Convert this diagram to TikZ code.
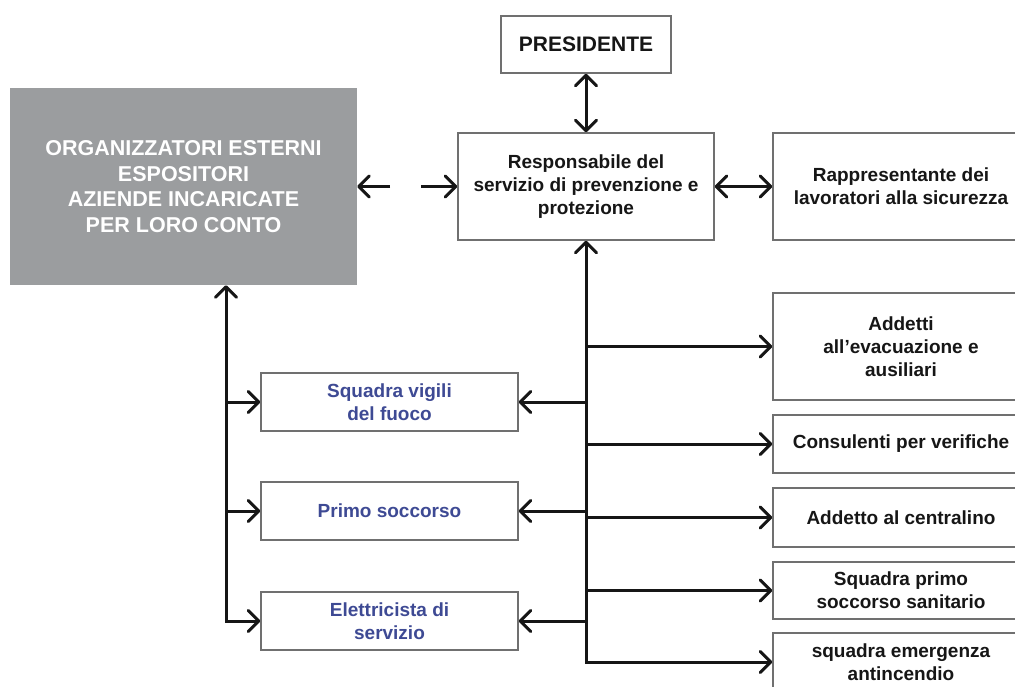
\documentclass[tikz,border=0pt]{standalone}
\usepackage{fontspec}
\setmainfont{Liberation Sans}
\usetikzlibrary{arrows.meta}
\definecolor{boxgrey}{RGB}{155,157,159}
\definecolor{edgegrey}{RGB}{112,112,112}
\definecolor{bluetext}{RGB}{62,74,148}
\definecolor{ink}{RGB}{22,22,22}
\tikzset{
  box/.style={draw=edgegrey, line width=1.6pt, fill=white, inner sep=0pt, align=center,
    font=\bfseries\fontsize{19}{23}\selectfont, text=ink},
  wide/.style={minimum width=256pt},
  leftbox/.style={minimum width=257pt, minimum height=58pt, text=bluetext},
  conn/.style={draw=ink, line width=3pt, >={Straight Barb[length=10.5pt,width=21pt,round]}},
}
\begin{document}
\begin{tikzpicture}[x=1pt,y=-1pt]
\useasboundingbox (0,0) rectangle (1015,686);
\clip (0,0) rectangle (1015,686);

% grey box
\node[fill=boxgrey, minimum width=347pt, minimum height=197pt, inner sep=0pt, align=center,
  text=white, font=\bfseries\fontsize{21.5}{25.7}\selectfont] (grey) at (183.5,186.5)
  {ORGANIZZATORI ESTERNI\\ESPOSITORI\\AZIENDE INCARICATE\\PER LORO CONTO};

% top
\node[box, minimum width=170pt, minimum height=57pt, font=\bfseries\fontsize{21}{25}\selectfont] (pres) at (586,44.5) {PRESIDENTE};
\node[box, wide, minimum height=107pt] (resp) at (586,186.5) {Responsabile del\\servizio di prevenzione e\\protezione};
\node[box, wide, minimum height=107pt] (rapp) at (901,186.5) {Rappresentante dei\\lavoratori alla sicurezza};

% right column
\node[box, wide, minimum height=107pt] (add) at (901,346.5) {Addetti\\all’evacuazione e\\ausiliari};
\node[box, wide, minimum height=58pt] (cons) at (901,444) {Consulenti per verifiche};
\node[box, wide, minimum height=59pt] (cent) at (901,517.5) {Addetto al centralino};
\node[box, wide, minimum height=57pt] (sps) at (901,590.5) {Squadra primo\\soccorso sanitario};
\node[box, wide, minimum height=58pt] (sea) at (901,662) {squadra emergenza\\antincendio};

% left column
\node[box, leftbox] (vig) at (389.5,402) {Squadra vigili\\del fuoco};
\node[box, leftbox] (primo) at (389.5,511) {Primo soccorso};
\node[box, leftbox] (elet) at (389.5,621) {Elettricista di\\servizio};

% helper coordinates
\coordinate (lx) at (226,0);
\coordinate (ga) at (390,186.5);
\coordinate (gb) at (421,186.5);

% connectors
\draw[conn,<->] (pres.south) -- (resp.north);
\draw[conn,<->] (resp.east) -- (rapp.west);
\draw[conn,->] (ga) -- (grey.east);
\draw[conn,->] (gb) -- (resp.west);
\draw[conn,<->] (resp.south) |- (sea.west);
\foreach \n in {add,cons,cent,sps} \draw[conn,->] (resp.south |- \n.west) -- (\n.west);
\foreach \n in {vig,primo,elet} \draw[conn,->] (resp.south |- \n.east) -- (\n.east);
\draw[conn,<->] (grey.south -| lx) |- (elet.west);
\foreach \n in {vig,primo} \draw[conn,->] (lx |- \n.west) -- (\n.west);
\end{tikzpicture}
\end{document}
